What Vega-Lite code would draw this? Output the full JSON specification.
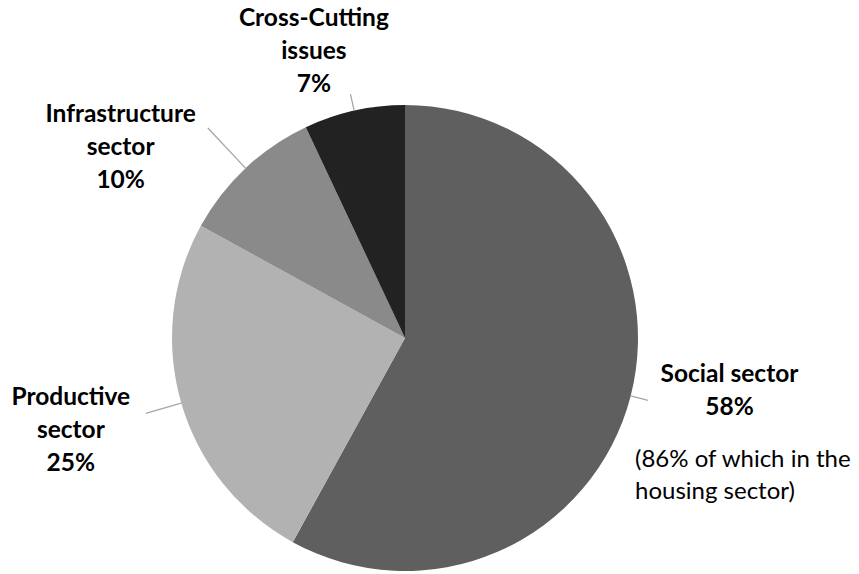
{
  "$schema": "https://vega.github.io/schema/vega-lite/v6.json",
  "width": 810,
  "height": 472,
  "autosize": {"type": "none"},
  "padding": {"left": 0, "top": 102, "right": 49, "bottom": 0},
  "background": "white",
  "config": {"view": {"stroke": null}, "text": {"font": "Lato"}},
  "data": {
    "values": [
      {"sector": "Social sector", "rank": 1, "value": 58, "label": ["Social sector", "58%"], "note": ["(86% of which in the", "housing sector)"]},
      {"sector": "Productive sector", "rank": 2, "value": 25, "label": ["Productive", "sector", "25%"], "note": ""},
      {"sector": "Infrastructure sector", "rank": 3, "value": 10, "label": ["Infrastructure", "sector", "10%"], "note": ""},
      {"sector": "Cross-Cutting issues", "rank": 4, "value": 7, "label": ["Cross-Cutting", "issues", "7%"], "note": ""}
    ]
  },
  "encoding": {
    "theta": {"field": "value", "type": "quantitative", "stack": true},
    "order": {"field": "rank", "type": "quantitative"},
    "detail": {"field": "sector", "type": "nominal"}
  },
  "resolve": {"scale": {"theta": "independent"}},
  "layer": [
    {
      "mark": {"type": "arc", "outerRadius": 233},
      "encoding": {
        "color": {
          "field": "sector",
          "type": "nominal",
          "scale": {
            "domain": ["Social sector", "Productive sector", "Infrastructure sector", "Cross-Cutting issues"],
            "range": ["#5f5f5f", "#b2b2b2", "#8a8a8a", "#222222"]
          },
          "legend": null
        }
      }
    },
    {
      "mark": {"type": "arc", "innerRadius": 233, "outerRadius": 251, "padAngle": 3, "fillOpacity": 0, "stroke": "#a6a6a6", "strokeWidth": 1.3},
      "encoding": {
        "theta": {"field": "value", "type": "quantitative", "stack": true, "scale": {"range": [0.911, 4.0526]}},
        "strokeOpacity": {"condition": {"test": "datum.sector === 'Social sector'", "value": 1}, "value": 0}
      }
    },
    {
      "mark": {"type": "arc", "innerRadius": 233, "outerRadius": 270, "padAngle": 3, "fillOpacity": 0, "stroke": "#a6a6a6", "strokeWidth": 1.3},
      "encoding": {"strokeOpacity": {"condition": {"test": "datum.sector === 'Productive sector'", "value": 1}, "value": 0}}
    },
    {
      "mark": {"type": "arc", "innerRadius": 233, "outerRadius": 288, "padAngle": 3, "fillOpacity": 0, "stroke": "#a6a6a6", "strokeWidth": 1.3},
      "encoding": {"strokeOpacity": {"condition": {"test": "datum.sector === 'Infrastructure sector'", "value": 1}, "value": 0}}
    },
    {
      "mark": {"type": "arc", "innerRadius": 233, "outerRadius": 250, "padAngle": 3, "fillOpacity": 0, "stroke": "#a6a6a6", "strokeWidth": 1.3},
      "encoding": {"strokeOpacity": {"condition": {"test": "datum.sector === 'Cross-Cutting issues'", "value": 1}, "value": 0}}
    },
    {
      "mark": {"type": "text", "radius": 335, "dy": -46, "fontSize": 24.5, "fontWeight": "bold", "lineHeight": 33, "align": "center", "baseline": "middle", "color": "black"},
      "encoding": {"text": {"condition": {"test": "datum.sector === 'Social sector'", "field": "label"}, "value": ""}}
    },
    {
      "mark": {"type": "text", "radius": 237.5, "dy": 63, "fontSize": 24, "fontWeight": "normal", "lineHeight": 32, "align": "left", "baseline": "middle", "color": "black"},
      "encoding": {"text": {"condition": {"test": "datum.sector === 'Social sector'", "field": "note"}, "value": ""}}
    },
    {
      "mark": {"type": "text", "radius": 348, "dy": -37, "fontSize": 24.5, "fontWeight": "bold", "lineHeight": 33, "align": "center", "baseline": "middle", "color": "black"},
      "encoding": {"text": {"condition": {"test": "datum.sector === 'Productive sector'", "field": "label"}, "value": ""}}
    },
    {
      "mark": {"type": "text", "radius": 300, "dx": -79, "dy": -4, "fontSize": 24.5, "fontWeight": "bold", "lineHeight": 33, "align": "center", "baseline": "middle", "color": "black"},
      "encoding": {"text": {"condition": {"test": "datum.sector === 'Infrastructure sector'", "field": "label"}, "value": ""}}
    },
    {
      "mark": {"type": "text", "radius": 294, "dx": -27, "dy": -32, "fontSize": 24.5, "fontWeight": "bold", "lineHeight": 33, "align": "center", "baseline": "middle", "color": "black"},
      "encoding": {"text": {"condition": {"test": "datum.sector === 'Cross-Cutting issues'", "field": "label"}, "value": ""}}
    }
  ]
}
